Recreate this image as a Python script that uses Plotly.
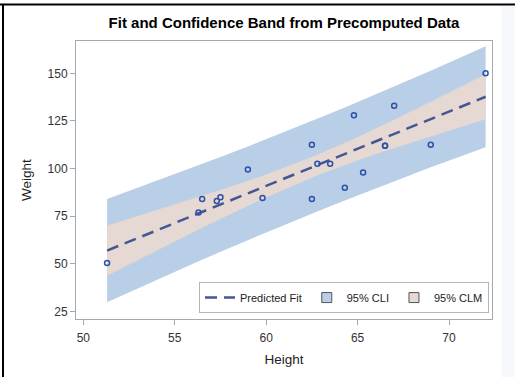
import plotly.graph_objects as go

# Observations (Height, Weight)
height = [69.0, 56.5, 65.3, 62.8, 63.5, 57.3, 59.8, 62.5, 62.5, 59.0,
          51.3, 64.3, 56.3, 66.5, 72.0, 64.8, 67.0, 57.5, 66.5]
weight = [112.5, 84.0, 98.0, 102.5, 102.5, 83.0, 84.5, 112.5, 84.0, 99.5,
          50.5, 90.0, 77.0, 112.0, 150.0, 128.0, 133.0, 85.0, 112.0]

# Precomputed fit and limits at sorted heights
band_x = [51.3, 56.3, 56.5, 57.3, 57.5, 59.0, 59.8, 62.5, 62.8, 63.5,
          64.3, 64.8, 65.3, 66.5, 67.0, 69.0, 72.0]
fit = [56.99, 76.49, 77.27, 80.39, 81.17, 87.02, 90.14, 100.66, 101.83, 104.56,
       107.68, 109.63, 111.58, 116.26, 118.21, 126.01, 137.70]
clm_lo = [43.80, 67.96, 68.91, 72.67, 73.60, 80.48, 84.04, 95.22, 96.37, 98.98,
          101.84, 103.57, 105.26, 109.18, 110.77, 116.95, 125.86]
clm_hi = [70.18, 85.02, 85.63, 88.11, 88.74, 93.56, 96.24, 106.10, 107.29, 110.14,
          113.52, 115.69, 117.90, 123.34, 125.65, 135.07, 149.54]
cli_lo = [29.88, 51.32, 52.15, 55.48, 56.30, 62.45, 65.68, 76.36, 77.52, 80.23,
          83.29, 85.18, 87.07, 91.54, 93.38, 100.65, 111.22]
cli_hi = [84.10, 101.66, 102.39, 105.30, 106.04, 111.59, 114.60, 124.96, 126.14, 128.89,
          132.07, 134.08, 136.09, 140.98, 143.04, 151.37, 164.18]

x_ticks = [50, 55, 60, 65, 70]
y_ticks = [25, 50, 75, 100, 125, 150]

CLI_COLOR = "#b9cee7"
CLM_COLOR = "#e6d8d2"
FIT_COLOR = "#445694"
MARKER_COLOR = "#2d52a8"
FONT = "Liberation Sans, Arial, sans-serif"

fig = go.Figure()

# CLI band
fig.add_trace(go.Scatter(
    x=band_x + band_x[::-1], y=cli_hi + cli_lo[::-1],
    fill="toself", fillcolor=CLI_COLOR, line=dict(width=0),
    mode="lines", showlegend=False, hoverinfo="skip"))
# CLM band
fig.add_trace(go.Scatter(
    x=band_x + band_x[::-1], y=clm_hi + clm_lo[::-1],
    fill="toself", fillcolor=CLM_COLOR, line=dict(width=0),
    mode="lines", showlegend=False, hoverinfo="skip"))
# Fit line
fig.add_trace(go.Scatter(
    x=band_x, y=fit, mode="lines", name="Predicted Fit",
    line=dict(color=FIT_COLOR, width=2.5, dash="12px,7px")))
# Legend swatches
fig.add_trace(go.Scatter(
    x=[None], y=[None], mode="markers", name="95% CLI",
    marker=dict(symbol="square", size=10, color=CLI_COLOR,
                line=dict(color="#555555", width=1))))
fig.add_trace(go.Scatter(
    x=[None], y=[None], mode="markers", name="95% CLM",
    marker=dict(symbol="square", size=10, color=CLM_COLOR,
                line=dict(color="#555555", width=1))))
# Observations
fig.add_trace(go.Scatter(
    x=height, y=weight, mode="markers", showlegend=False,
    marker=dict(symbol="circle-open", size=5, color=MARKER_COLOR,
                line=dict(width=1.5, color=MARKER_COLOR))))

L, R, T, B = 76, 23, 41, 55
W, H = 515, 377
pw, ph = W - L - R, H - T - B


def px_x(px):
    return (px - L) / pw


def px_y(py):
    return (H - B - py) / ph


shapes = [
    dict(type="rect", xref="paper", yref="paper", layer="below",
         x0=px_x(501), x1=px_x(520), y0=px_y(5), y1=px_y(385),
         fillcolor="#f6f8fc", line=dict(width=0)),
    dict(type="line", xref="paper", yref="paper",
         x0=px_x(-5), x1=px_x(520), y0=px_y(4), y1=px_y(4),
         line=dict(color="#000000", width=2)),
    dict(type="line", xref="paper", yref="paper",
         x0=px_x(3), x1=px_x(3), y0=px_y(4), y1=px_y(385),
         line=dict(color="#000000", width=2)),
]

axis_common = dict(
    showline=True, linecolor="#a3aaae", linewidth=1, mirror=True,
    ticks="outside", ticklen=5, tickcolor="#a3aaae",
    showgrid=False, zeroline=False,
    tickfont=dict(family=FONT, size=12, color="#333333"),
)

fig.update_layout(
    width=W, height=H,
    margin=dict(l=L, r=R, t=T, b=B, pad=0),
    paper_bgcolor="white", plot_bgcolor="white",
    font=dict(family=FONT, color="#000000"),
    title=dict(text="<b>Fit and Confidence Band from Precomputed Data</b>",
               x=0.5, xref="paper", xanchor="center",
               y=1 - 23 / H, yref="container", yanchor="middle",
               font=dict(family=FONT, size=15, color="#000000")),
    xaxis=dict(range=[49.6, 72.35], tickvals=x_ticks, ticklabelstandoff=3,
               title=dict(text="Height", font=dict(family=FONT, size=13.5, color="#222222"),
                          standoff=10),
               **axis_common),
    yaxis=dict(range=[21.06, 166.96], tickvals=y_ticks,
               title=dict(text="Weight", font=dict(family=FONT, size=13.5, color="#222222"),
                          standoff=12),
               **axis_common),
    legend=dict(orientation="h", x=px_x(489), xanchor="right",
                y=px_y(316), yanchor="bottom",
                bgcolor="white", bordercolor="#b5b5b5", borderwidth=1,
                font=dict(family=FONT, size=11, color="#222222"),
                itemwidth=30, tracegroupgap=0),
    shapes=shapes,
    showlegend=True,
)

fig.write_html("out.html",
               config={"displayModeBar": False},
               post_script="document.body.style.margin='0';document.body.style.overflow='hidden';")
